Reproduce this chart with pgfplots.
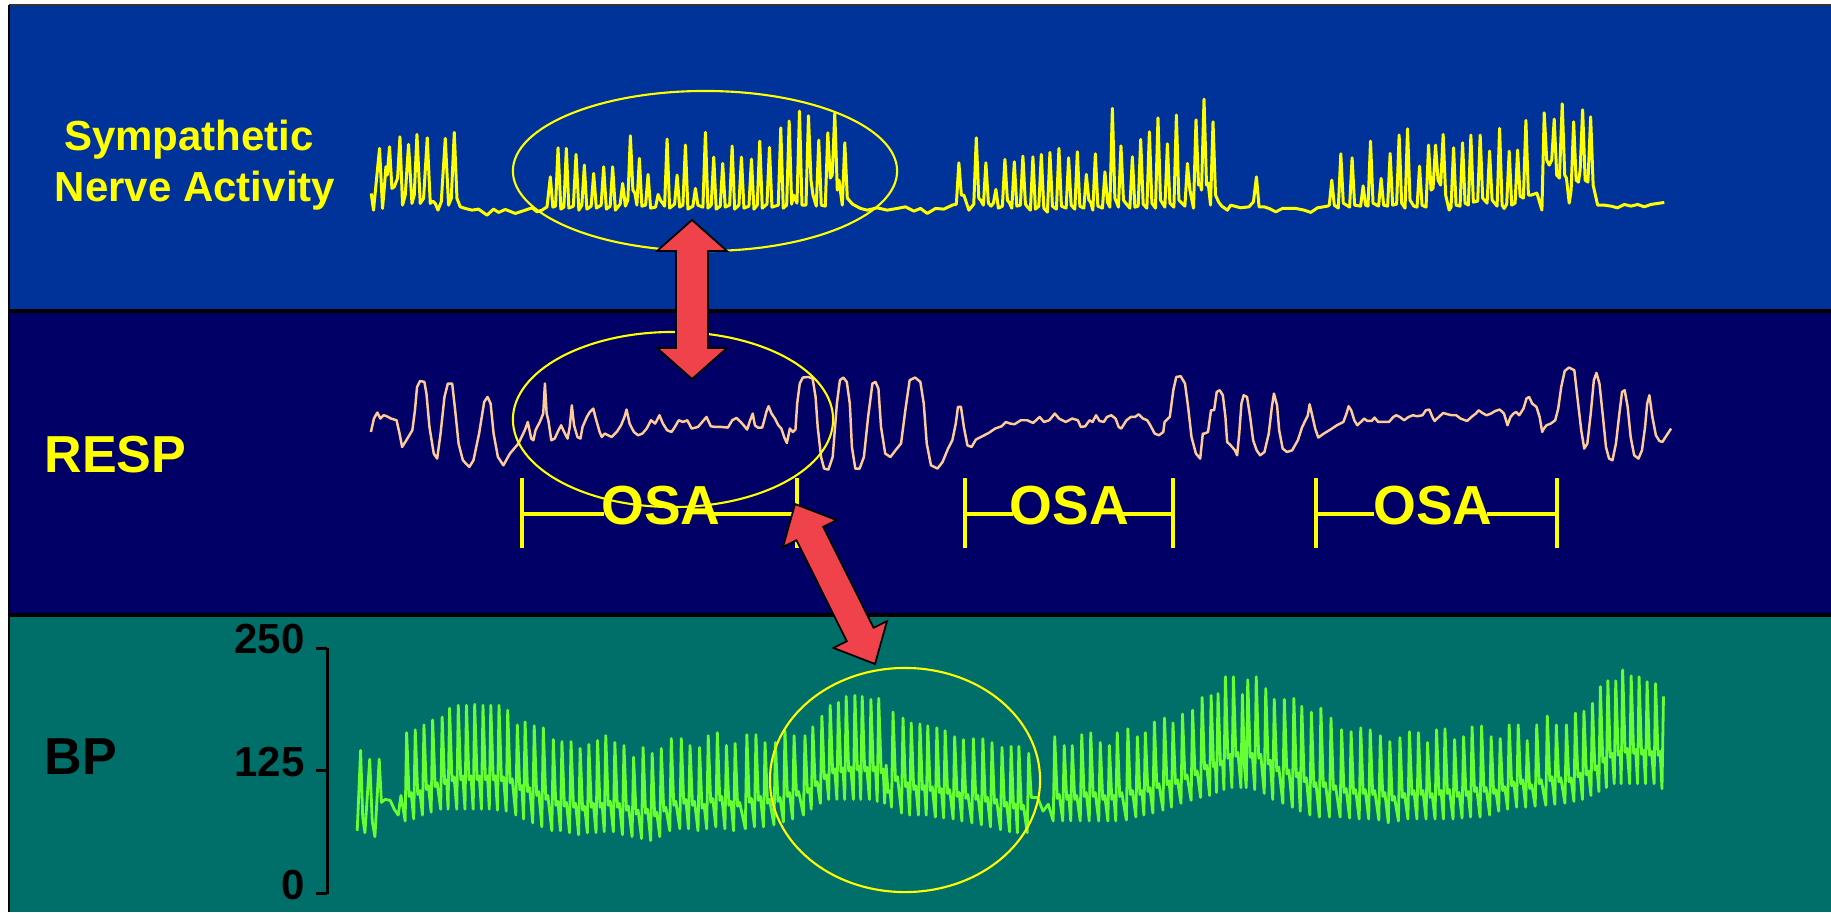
\documentclass[border=0pt]{standalone}
\usepackage{pgfplots}
\pgfplotsset{compat=1.18}
\usepackage{fontspec}
\setmainfont{Liberation Sans}
\definecolor{topblue}{RGB}{0,51,153}
\definecolor{midnavy}{RGB}{0,0,102}
\definecolor{botteal}{RGB}{0,111,106}
\definecolor{snay}{RGB}{255,255,0}
\definecolor{respc}{RGB}{255,204,153}
\definecolor{bpg}{RGB}{102,255,51}
\definecolor{arrowred}{RGB}{240,66,75}
\begin{document}
\begin{tikzpicture}[x=0.01cm,y=-0.01cm]
\path[use as bounding box] (0,0) rectangle (1831,912);
\fill[white] (0,0) rectangle (1831,912);
\fill[topblue] (9,5) rectangle (1831,311);
\fill[midnavy] (9,311) rectangle (1831,615);
\fill[botteal] (9,615) rectangle (1831,912);
\draw[black!80, line width=0.6pt] (9,5) -- (1831,5);
\draw[black, line width=0.8pt] (9,5) -- (9,912);
\draw[black, line width=1.1pt] (9,311) -- (1831,311);
\draw[black, line width=1.1pt] (9,615) -- (1831,615);

\begin{axis}[at={(0cm,0cm)}, anchor=north west, scale only axis, width=18.31cm, height=9.12cm,
  xmin=0, xmax=1831, ymin=0, ymax=912, y dir=reverse, hide axis, clip=false]
% Sympathetic nerve activity (pixel units)
\addplot[snay, line width=0.85pt, line join=round] coordinates {
(371,193.3) (373.3,210) (379.3,148.3) (382.3,208.3) (384.3,185) (385.7,166.7) (387,175) (389.3,146.7) (391.7,188.3) (394,186.7) (397.3,178.3) (399.7,136.7) (402.3,205) (405,195) (408.3,144.3) (411.7,203.3) (414,195) (416.7,134.3) (420,203.3) (423.3,198.3) (427,137.7) (430,203.3) (432.7,201) (435,203.3) (437.7,210) (441,201.7) (445,138.3) (448.3,205) (451,198.3) (454,132.3) (456.7,198.3) (460,206.7)
(465,208.3) (471.7,210) (478.3,209) (486.7,215) (493.3,209) (498.3,212.3) (505,209.3) (515,213.3) (525,210) (531.7,207.7) (536.7,211.7) (541.7,210) (546.7,206.7)
(550,176.7) (552.5,207) (555.2,206) (557.7,147.7) (560.5,209) (563.5,207) (566,148.3) (568.5,208) (573,206) (575.7,154.3) (578.5,210) (581.5,205) (584,165) (586.5,209) (590.8,206) (593.3,173.3) (596,208) (600.8,205) (603.3,166.7) (606,209) (609.8,206) (612.3,166.7) (615,210) (619.8,204) (622.3,183.3) (625,206) (627.5,200) (630,135.7) (632.5,190) (634.5,193) (636.5,205) (639,158.3) (641.5,206) (645.2,205) (647.7,174.3) (650.2,208) (655.2,207) (657.7,194.3) (660,200) (664.2,206) (666.7,139) (669.2,208) (674.2,204) (676.7,175) (679.2,207) (682.5,205) (685,145) (687.5,209) (692.5,206) (695,188.3) (697.5,205) (702.5,207) (705,132.3) (707.5,208) (710.8,205) (713.3,157) (715.8,209) (719.8,206) (722.3,163.3) (724.8,207) (729.2,205) (731.7,146) (734.2,209) (738.5,205) (741,157) (743.5,208) (748.5,206) (751,159) (753.5,209) (756.8,205) (759.3,141) (761.8,208) (766.5,204) (769,147.3) (771.5,207) (777.8,205) (780.3,127.7) (782.8,208) (786.2,205) (788.7,121) (791.2,204) (793,195) (796.5,203) (799,111) (801.5,205) (805.5,205) (808,115.7) (810.5,180) (812.5,195) (815.8,206) (818.3,140) (820.8,205) (824.8,206) (827.3,132.7) (829.8,178) (831.7,175) (834.3,113.3) (836.8,190) (838.5,180) (841.8,205) (844.3,142.7) (846.8,198) (852,204) (860,208.3)
(866.7,210) (876.7,207.7) (886.7,210) (896.7,208.3) (905,206.7) (913.3,211) (920,208.3) (926.7,213.3) (935,208.3) (943.3,209) (951.7,205)
(955.8,204) (958.3,162.7) (960.8,195) (963.3,195) (968.3,210) (973.2,204) (975.7,137.7) (978.2,198) (980,200) (982.8,205) (985.3,162.7) (987.8,203) (990.5,206) (992.8,203) (995.3,189.3) (997.8,208) (1001.8,206) (1004.3,159.3) (1006.8,200) (1009,203) (1011.2,208) (1013.7,161.7) (1016.2,206) (1019.8,205) (1022.3,156) (1024.8,204) (1027,207) (1029.8,210) (1032.3,156.7) (1034.8,209) (1038.2,206) (1040.7,154.3) (1043.2,208) (1046.8,212) (1049.3,152.3) (1051.8,206) (1055.8,209) (1058.3,148.3) (1060.8,206) (1065.5,208) (1068,157.7) (1070.5,205) (1074.2,209) (1076.7,151.7) (1079.2,206) (1083.2,208) (1085.7,174.3) (1088.2,200) (1090,202) (1092.2,210) (1094.7,153.7) (1097.2,206) (1101.8,208) (1104.3,171.7) (1106.8,202) (1109.2,207) (1111.7,108.3) (1114.2,198) (1117.8,207) (1120.3,145.7) (1122.8,200) (1125,203) (1129.2,208) (1131.7,156.7) (1134.2,207) (1137.5,206) (1140,139.3) (1142.5,204) (1146.2,208) (1148.7,131.7) (1151.2,203) (1154.8,208) (1157.3,117.7) (1159.8,200) (1164.2,207) (1166.7,143.7) (1169.2,203) (1173.2,207) (1175.7,115) (1178.2,200) (1184.2,206) (1186.7,163.3) (1189.2,190) (1192.8,208) (1195.3,119.7) (1197.8,185) (1199.5,183) (1200.8,190) (1203.3,99) (1205.8,185) (1207.5,183) (1209.8,205) (1212.3,121.7) (1214.8,195) (1218,202) (1221,206) (1226.7,210) (1230,205) (1240,207.7) (1248.3,206.7) (1252.7,201.7) (1255.7,176.7) (1258.3,206.7) (1263.3,206.7) (1268.3,208.3) (1275,211.7) (1281.7,208.3) (1288.3,208.3) (1295,208.3) (1303.3,210) (1310,212.3) (1316.7,207.7) (1326.7,206)
(1328.5,205) (1331,180) (1333.5,205) (1337.5,208) (1340,153.7) (1342.5,203) (1348.8,207) (1351.3,157.7) (1353.8,205) (1359.8,206) (1362.3,185.7) (1364.8,205) (1367.2,206) (1369.7,141) (1372.2,203) (1377.8,206) (1380.3,178.3) (1382.8,205) (1386.8,206) (1389.3,153.3) (1391.8,205) (1395.8,204) (1398.3,135) (1400.8,203) (1404.2,208) (1406.7,128.7) (1409.2,200) (1413,206) (1416.2,207) (1418.7,166) (1421.2,205) (1425.2,207) (1427.7,145) (1430.2,190) (1432.2,188) (1434.7,145) (1437.2,180) (1439.8,185) (1442.3,134.3) (1444.8,195) (1448.3,210) (1450.2,207) (1452.7,147.7) (1455.2,205) (1459.2,206) (1461.7,142.7) (1464.2,203) (1467.5,205) (1470,135) (1472.5,202) (1476.8,201) (1479.3,135) (1481.8,198) (1486.2,203) (1488.7,151) (1491.2,200) (1496.2,206) (1498.7,128.3) (1501.2,205) (1503.3,208.3) (1505.8,204) (1508.3,151) (1510.8,205) (1514.2,203) (1516.7,150) (1519.2,196) (1522.5,198) (1525,120.3) (1527.5,195) (1530,195) (1536,193) (1541,210) (1543.3,112.7) (1545.8,160) (1548.3,165) (1550.8,160) (1553.3,119) (1555.8,175) (1558.5,178) (1561.3,103.7) (1563.8,175) (1565.5,178) (1568.3,203) (1570.2,190) (1572.7,121.7) (1575.2,180) (1577.5,182) (1579.2,170) (1581.7,109.7) (1584.2,180) (1587,182) (1589.7,116.7) (1592.2,185) (1596.7,205)
(1603.3,205) (1610,206) (1616.7,207.7) (1623.3,204.3) (1630,206) (1636.7,204.3) (1643.3,206.7) (1650,204.3) (1656.7,203.3) (1663.3,202.3)
};
% Respiration (pixel units)
\addplot[respc, line width=0.7pt, line join=round] coordinates {
(370.7,431.7) (373.7,418.3) (377.1,412.3) (380.1,418.3) (383.5,415) (386.5,416) (390.8,418.3) (396.3,420) (399.3,433.3) (401.9,446.7) (406.1,440) (412.1,430) (414.7,410) (416.8,386.7) (419.8,380.7) (424.1,381.7) (426.2,393.3) (429.2,426.7) (433.5,453.3) (436.9,458.3) (440.3,433.3) (444.2,396.7) (447.6,383.3) (451.9,383.3) (454.9,410) (458.3,443.3) (462.6,460) (469.0,466.7) (473.2,460) (478.8,433.3) (483.9,401.7) (487.3,396.7) (490.3,403.3) (493.3,433.3) (497.6,456.7) (503.1,465) (509.6,453.3) (518.1,443.3) (524.5,430) (527.5,421.7) (530.9,438.3) (533.1,440) (535.2,430) (539.5,421.7) (542.9,413.3) (544.6,383.3) (546.3,413.3) (548.0,420) (551.0,440) (554.4,438.3) (557.4,431.7) (560.8,425) (563.0,430) (567.2,438.3) (569.4,426.7) (571.5,405) (573.7,425) (577.1,436.7) (580.1,438.3) (582.2,426.7) (586.5,416.7) (589.5,411.7) (592.9,408.3) (595.0,416.7) (599.3,431.7) (601.4,436.7) (604.4,433.3) (607.8,435) (611.3,436.7) (616.4,431.7) (620.7,425) (624.1,416.7) (626.2,409.3) (629.2,423.3) (633.5,431.7) (637.7,435) (642.0,433.3) (646.3,428.3) (650.6,420) (654.8,423.3) (659.1,415) (662.5,423.3) (666.8,430) (671.1,431.7) (674.1,427.3) (678.3,420) (682.6,421.7) (686.9,420) (691.2,428.3) (697.6,426.7) (701.8,421.7) (706.1,416.7) (710.4,426) (714.7,426.7) (721.1,426.7) (727.5,427.3) (731.8,420) (736.0,417.7) (740.3,421.7) (744.6,426.7) (746.7,429.3) (749.7,420) (752.3,413.3) (754.4,425) (757.4,427.3) (761.7,427.3) (763.8,420) (765.9,411.7) (768.1,406) (771.1,413.3) (774.5,418.3) (777.9,425) (780.9,428.3) (783.9,437.3) (786.4,442.7) (789.4,428.3) (792.4,431.7) (795.0,429.3) (796.7,403.3) (799.3,383.3) (802.3,377.3) (807.8,376.7) (812.1,378.3) (815.1,396.7) (817.2,426.7) (820.6,456.7) (823.6,468.3) (827.9,469.3) (832.2,456.7) (836.4,403.3) (839.4,380) (842.8,377.3) (846.3,381.7) (849.3,403.3) (851.4,446.7) (854.8,468.3) (859.1,468.3) (863.4,456.7) (867.6,416.7) (871.9,383.3) (874.9,381.7) (877.9,388.3) (880.5,426.7) (884.7,453.3) (889.9,456.7) (896.3,448.3) (900.5,443.3) (904.8,410) (909.1,380) (914.6,377.3) (919.8,381.7) (923.2,403.3) (926.2,443.3) (930.4,465) (936.9,468.3) (942.0,461.7) (947.5,448.3) (951.8,440) (955.2,423.3) (957.4,406.7) (960.4,406.7) (963.3,426.7) (966.8,445) (971.0,446.7) (975.3,439.3) (981.7,436) (988.1,432.7) (994.5,428.3) (1001.0,426) (1005.2,421.7) (1009.5,423.3) (1013.8,424) (1020.2,420) (1026.6,420)
(1032.5,422.7) (1039.0,416.7) (1043.4,421.7) (1048.6,420) (1054.2,413.3) (1058.5,418.3) (1065.1,421.7) (1071.6,418.3) (1077.2,420) (1080.2,426.7) (1084.6,426) (1088.9,420) (1091.9,421.7) (1095.4,415) (1098.9,420.7) (1103.2,421.7) (1106.3,416.7) (1110.6,415) (1114.9,418.3) (1118.0,426.7) (1120.6,428.3) (1125.8,420) (1130.1,416.7) (1134.4,416.7) (1137.9,414) (1142.3,418.3) (1146.6,420) (1149.6,425) (1154.0,433.3) (1158.3,435) (1162.6,431.7) (1163.9,421.7) (1169.1,416.7) (1172.6,390) (1175.6,376.7) (1180.0,376) (1184.3,383.3) (1187.4,406.7) (1190.8,436.7) (1195.2,453.3) (1199.5,458.3) (1202.1,433.3) (1203.8,433.3) (1207.3,431.7) (1210.3,410) (1213.4,410) (1216.0,391.7) (1219.0,390) (1222.1,395) (1224.7,416.7) (1226.4,441.7) (1229.9,445) (1234.2,450) (1236.4,455) (1238.5,433.3) (1240.7,403.3) (1242.9,395) (1246.3,396.7) (1249.4,416.7) (1252.4,440) (1255.9,450) (1259.4,455) (1263.7,451.7) (1268.0,433.3) (1271.1,406.7) (1273.2,393.3) (1276.3,405) (1278.4,430) (1281.9,448.3) (1286.2,451.7) (1291.4,450) (1297.1,440) (1301.4,426.7) (1307.1,415) (1308.8,404) (1311.4,415) (1314.4,428.3) (1317.5,437.3) (1323.1,433.3) (1329.6,429.3) (1336.1,425) (1342.6,421.7) (1345.7,413.3) (1347.8,406) (1350.4,410) (1353.5,420) (1356.5,425) (1360.0,421.7) (1363.4,418.3) (1366.5,420.7) (1370.8,420.7) (1373.8,417.3) (1377.3,421.7) (1381.7,421.7) (1388.2,421.7) (1392.5,416.7) (1395.5,415) (1399.0,416.7) (1403.3,420) (1407.7,416.7) (1412.0,415) (1416.4,416) (1421.6,415) (1425.0,410) (1428.5,409.3) (1431.5,416.7) (1433.7,420.7) (1438.0,416.7) (1442.4,412.7) (1446.7,414) (1451.0,415) (1455.4,415) (1459.7,418.3) (1466.2,420.7) (1470.6,416.7) (1474.9,413.3) (1477.9,410) (1481.4,412.7) (1485.7,415) (1490.1,413.3) (1494.4,410.7) (1498.8,409.3) (1503.1,413.3) (1506.6,425) (1509.6,416.7) (1512.6,413.3) (1515.2,411.7) (1518.3,415) (1522.6,408.3) (1525.6,398.3) (1528.2,396.7) (1531.3,403.3) (1535.6,406.7) (1538.7,416.7) (1541.3,431.7) (1543.0,428.3) (1545.6,425) (1549.9,423.3) (1554.3,420) (1557.3,408.3) (1560.3,386.7) (1563.8,370.7) (1568.1,367.3) (1573.4,370) (1576.8,400) (1580.3,430) (1583.3,448.3) (1586.4,443.3) (1589.8,413.3) (1592.9,380) (1595.5,372.7) (1598.5,383.3) (1602.0,416.7) (1605.0,446.7) (1608.1,458.3) (1611.5,460) (1615.0,443.3) (1618.0,416.7) (1621.1,391.7) (1623.7,390) (1626.7,406.7) (1629.7,436.7) (1633.2,455) (1637.5,458.3) (1641.0,450) (1644.1,426.7) (1646.2,403.3) (1648.4,395) (1651.4,416.7) (1654.9,435) (1658.4,440.7) (1661.4,441.7) (1665.7,435) (1670.1,428.3)
};
\end{axis}

\begin{axis}[at={(3.27cm,-8.93cm)}, anchor=south west, scale only axis, width=13.73cm, height=2.45cm,
  xmin=327, xmax=1700, ymin=0, ymax=250, axis x line=none, axis y line*=left,
  ytick={0,125,250}, tick align=outside, major tick length=0.11cm,
  axis line style={black, line width=0.85pt}, tick style={black, line width=0.85pt},
  yticklabel style={font=\bfseries\fontsize{11.95}{12}\selectfont, anchor=base east, inner sep=0pt, xshift=-0.11cm, yshift=-0.055cm},
  /pgf/number format/assume math mode=true, clip=false]
% Blood pressure (mmHg)
\addplot[bpg, line width=0.8pt, line join=round] coordinates {
(357,64) (360.4,146) (362.5,78) (364.7,62) (369.5,137) (372,74) (374.7,58) (379,137) (381.2,93) (385,96) (390,95) (394,86) (398,80) (400.7,100) (403,86)
(404.9,74) (406.4,164) (408.9,99) (410.9,103)
(413.5,76) (415,167) (417.5,101) (419.5,105)
(422.2,80) (423.7,172) (426.2,106) (428.2,110)
(430.9,83) (432.4,177) (434.9,109) (436.9,113)
(440.4,86) (441.9,180) (444.4,112) (446.4,116)
(447.8,86) (449.3,189) (451.8,115) (453.8,119)
(456.5,86) (458,192) (460.5,116) (462.5,120)
(464.7,86) (466.2,192) (468.7,116) (470.7,120)
(472.9,86) (474.4,193) (476.9,116) (478.9,120)
(481.2,86) (482.7,192) (485.2,116) (487.2,120)
(489,86) (490.5,192) (493,116) (495,120)
(497.2,85) (498.7,192) (501.2,115) (503.2,119)
(505.9,84) (507.4,187) (509.9,113) (511.9,117)
(515.5,80) (517,172) (519.5,106) (521.5,110)
(523.3,76) (524.8,175) (527.3,104) (529.3,108)
(532.4,72) (533.9,171) (536.4,100) (538.4,104)
(541.5,68) (543,169) (545.5,96) (547.5,100)
(551.5,64) (553,157) (555.5,90) (557.5,94)
(560.1,64) (561.6,155) (564.1,89) (566.1,93)
(569.2,62) (570.7,155) (573.2,88) (575.2,92)
(578.3,60) (579.8,148) (582.3,85) (584.3,89)
(587,62) (588.5,152) (591,88) (593,92)
(595.7,62) (597.2,156) (599.7,88) (601.7,92)
(603.9,63) (605.4,161) (607.9,90) (609.9,94)
(613,63) (614.5,154) (617,88) (619,92)
(622.1,60) (623.6,151) (626.1,85) (628.1,89)
(631.7,58) (633.2,139) (635.7,81) (637.7,85)
(641.2,56) (642.7,149) (645.2,82) (647.2,86)
(650.3,54) (651.8,143) (654.3,79) (656.3,83)
(659.4,58) (660.9,148) (663.4,84) (665.4,88)
(669.4,64) (670.9,158) (673.4,90) (675.4,94)
(679.4,66) (680.9,158) (683.4,92) (685.4,96)
(688.1,66) (689.6,151) (692.1,90) (694.1,94)
(697.6,64) (699.1,149) (701.6,87) (703.6,91)
(706.3,66) (707.8,161) (710.3,93) (712.3,97)
(715.4,68) (716.9,164) (719.4,95) (721.4,99)
(724.5,66) (726,151) (728.5,90) (730.5,94)
(733.2,64) (734.7,153) (737.2,89) (739.2,93)
(744.9,66) (746.4,162) (748.9,93) (750.9,97)
(754,68) (755.5,162) (758,95) (760,99)
(763.1,68) (764.6,154) (767.1,92) (769.1,96)
(773.5,70) (775,154) (777.5,94) (779.5,98)
(783,73) (784.5,166) (787,99) (789,103)
(792.1,76) (793.6,161) (796.1,100) (798.1,104)
(803,80) (804.5,161) (807,103) (809,107)
(810.8,86) (812.3,170) (814.8,110) (816.8,114)
(819.9,92) (821.4,181) (823.9,117) (825.9,121)
(828.2,96) (829.7,192) (832.2,123) (834.2,127)
(836.4,96) (837.9,195) (840.4,124) (842.4,128)
(844.2,96) (845.7,201) (848.2,125) (850.2,129)
(852.9,96) (854.4,202) (856.9,126) (858.9,130)
(860.2,96) (861.7,201) (864.2,125) (866.2,129)
(868.9,96) (870.4,198) (872.9,125) (874.9,129)
(876.7,94) (878.2,199) (880.7,123) (882.7,127)
(884.1,92) (885.6,131) (887.5,103) (889.5,105)
(891,88) (892.5,185) (895,115) (897,119)
(901,82) (902.5,179) (905,109) (907,113)
(909.2,80) (910.7,174) (913.2,106) (915.2,110)
(917.9,80) (919.4,173) (921.9,106) (923.9,110)
(925.7,80) (927.2,171) (929.7,105) (931.7,109)
(934.8,78) (936.3,169) (938.8,103) (940.8,107)
(943.1,77) (944.6,166) (947.1,102) (949.1,106)
(952.6,76) (954.1,160) (956.6,99) (958.6,103)
(961.3,74) (962.8,157) (965.3,97) (967.3,101)
(971.3,72) (972.8,158) (975.3,96) (977.3,100)
(980.8,70) (982.3,158) (984.8,94) (986.8,98)
(989.9,68) (991.4,154) (993.9,92) (995.9,96)
(999.9,65) (1001.4,149) (1003.9,89) (1005.9,93)
(1009,63) (1010.5,150) (1013,87) (1015,91)
(1016.8,62) (1018.3,150) (1020.8,86) (1022.8,90)
(1026.6,62) (1028.1,143) (1030.7,98) (1037,98) (1042.4,84) (1047.7,91)
(1052.6,74) (1054.1,160) (1056.6,97) (1058.6,101)
(1062.1,74) (1063.6,151) (1066.1,96) (1068.1,100)
(1070.1,74) (1071.6,151) (1074.1,96) (1076.1,100)
(1079.6,74) (1081.1,162) (1083.6,99) (1085.6,103)
(1088.6,74) (1090.1,164) (1092.6,99) (1094.6,103)
(1098.1,74) (1099.6,154) (1102.1,96) (1104.1,100)
(1107.2,74) (1108.7,151) (1111.2,96) (1113.2,100)
(1115.1,74) (1116.6,164) (1119.1,99) (1121.1,103)
(1125.7,75) (1127.2,168) (1129.7,101) (1131.7,105)
(1135.2,78) (1136.7,160) (1139.2,101) (1141.2,105)
(1143.2,80) (1144.7,164) (1147.2,104) (1149.2,108)
(1152.2,82) (1153.7,175) (1156.2,108) (1158.2,112)
(1162.3,85) (1163.8,179) (1166.3,111) (1168.3,115)
(1170.8,88) (1172.3,174) (1174.8,112) (1176.8,116)
(1180.3,92) (1181.8,183) (1184.3,117) (1186.3,121)
(1190.4,95) (1191.9,187) (1194.4,121) (1196.4,125)
(1199.9,98) (1201.4,200) (1203.9,127) (1205.9,131)
(1208.9,100) (1210.4,202) (1212.9,129) (1214.6,133)
(1215.8,103) (1217.3,204) (1219.8,131) (1221.8,135)
(1223.2,106) (1224.7,221) (1227.2,138) (1229.2,142)
(1231.2,108) (1232.7,221) (1235.2,140) (1237.2,144)
(1240.2,108) (1241.7,203) (1243.7,130)
(1245.5,108) (1247,218) (1249.5,139) (1251.5,143)
(1254,106) (1255.5,221) (1258,138) (1260,142)
(1263.5,102) (1265,209) (1267.5,132) (1269.5,136)
(1272,96) (1273.5,198) (1276,125) (1278,129)
(1282.1,92) (1283.6,198) (1286.1,122) (1288.1,126)
(1291.6,88) (1293.1,199) (1295.6,119) (1297.6,123)
(1299.5,84) (1301,191) (1303.5,114) (1305.5,118)
(1309.1,80) (1310.6,185) (1313.1,109) (1315.1,113)
(1318.6,78) (1320.1,189) (1322.6,109) (1324.6,113)
(1328.7,78) (1330.2,179) (1332.7,106) (1334.7,110)
(1339.3,78) (1340.8,167) (1343.3,103) (1345.3,107)
(1348.8,77) (1350.3,165) (1352.8,102) (1354.8,106)
(1358.4,76) (1359.9,169) (1362.4,102) (1364.4,106)
(1367.9,76) (1369.4,167) (1371.9,101) (1373.9,105)
(1378,75) (1379.5,161) (1382,99) (1384,103)
(1387.5,72) (1389,155) (1391.5,95) (1393.5,99)
(1397.6,74) (1399.1,159) (1401.6,98) (1403.6,102)
(1407.1,76) (1408.6,165) (1411.1,101) (1413.1,105)
(1416.1,76) (1417.6,164) (1420.1,101) (1422.1,105)
(1425.2,76) (1426.7,154) (1429.2,98) (1431.2,102)
(1434.2,76) (1435.7,167) (1438.2,101) (1440.2,105)
(1442.6,76) (1444.1,168) (1446.6,102) (1448.6,106)
(1452.2,76) (1453.7,157) (1456.2,99) (1458.2,103)
(1461.2,77) (1462.7,160) (1465.2,100) (1467.2,104)
(1469.7,78) (1471.2,170) (1473.7,104) (1475.7,108)
(1479.2,78) (1480.7,171) (1483.2,104) (1485.2,108)
(1488.8,80) (1490.3,160) (1492.8,102) (1494.8,106)
(1497.8,84) (1499.3,158) (1501.8,105) (1503.8,109)
(1506.8,86) (1508.3,172) (1510.8,110) (1512.8,114)
(1515.8,88) (1517.3,172) (1519.8,112) (1521.8,116)
(1524.8,88) (1526.3,156) (1528.8,107) (1530.8,111)
(1534.3,89) (1535.8,172) (1538.3,112) (1540.3,116)
(1544.9,90) (1546.4,181) (1548.9,115) (1550.9,119)
(1553.9,91) (1555.4,172) (1557.9,114) (1559.9,118)
(1564,92) (1565.5,172) (1568,114) (1570,118)
(1573,94) (1574.5,184) (1577,119) (1579,123)
(1581.5,96) (1583,186) (1585.5,121) (1587.5,125)
(1590,100) (1591.5,194) (1594,126) (1596,130)
(1597.9,104) (1599.4,211) (1601.9,134) (1603.9,138)
(1605.4,108) (1606.9,217) (1609.4,139) (1611.4,143)
(1613.3,112) (1614.8,217) (1617.3,141) (1619.3,145)
(1620.2,112) (1621.7,228) (1624.2,144) (1626.2,148)
(1628.7,112) (1630.2,222) (1632.7,143) (1634.7,147)
(1636.6,112) (1638.1,221) (1640.6,142) (1642.6,146)
(1644.6,112) (1646.1,216) (1648.6,141) (1650.6,145)
(1653.1,112) (1654.6,214) (1657.1,141) (1659.1,145)
(1661,107) (1662.5,201)
};
\end{axis}

% ellipses
\draw[snay, line width=0.6pt] (705,171) ellipse [x radius=1.92cm, y radius=0.80cm];
\draw[snay, line width=0.6pt] (673,419.5) ellipse [x radius=1.60cm, y radius=0.875cm];
\draw[snay, line width=0.6pt] (905,780) ellipse [x radius=1.35cm, y radius=1.12cm];

% OSA brackets
\begin{scope}[snay, line width=1.1pt]
\draw (522,478) -- (522,548); \draw (797,478) -- (797,548);
\draw (522,514) -- (604,514); \draw (714,514) -- (797,514);
\draw (965,478) -- (965,548); \draw (1173,478) -- (1173,548);
\draw (965,514) -- (1013,514); \draw (1123,514) -- (1173,514);
\draw (1316,478) -- (1316,548); \draw (1557,478) -- (1557,548);
\draw (1316,514) -- (1374,514); \draw (1487,514) -- (1557,514);
\end{scope}

% labels
\node[anchor=base, text=snay, font=\bfseries\fontsize{11.95}{12}\selectfont, inner sep=0pt] at (189,150) {Sympathetic};
\node[anchor=base, text=snay, font=\bfseries\fontsize{11.95}{12}\selectfont, inner sep=0pt] at (195,201) {Nerve Activity};
\node[anchor=base, text=snay, font=\bfseries\fontsize{14.8}{15}\selectfont, inner sep=0pt] at (115.5,472) {RESP};
\node[anchor=base, text=black, font=\bfseries\fontsize{14.8}{15}\selectfont, inner sep=0pt] at (80.7,774) {BP};
\node[anchor=base, text=snay, font=\bfseries\fontsize{15.65}{16}\selectfont, inner sep=0pt] at (661,524) {OSA};
\node[anchor=base, text=snay, font=\bfseries\fontsize{15.65}{16}\selectfont, inner sep=0pt] at (1069.5,524) {OSA};
\node[anchor=base, text=snay, font=\bfseries\fontsize{15.65}{16}\selectfont, inner sep=0pt] at (1433,524) {OSA};

% arrows
\draw[fill=arrowred, draw=black, line width=0.5pt, line join=miter]
 (692,220) -- (727,251) -- (708,251) -- (708,348) -- (727,348) -- (692,379) -- (657,348) -- (676,348) -- (676,251) -- (657,251) -- cycle;
\draw[fill=arrowred, draw=black, line width=0.5pt, line join=miter]
 (795,504) -- (836.6,520.1) -- (823.2,526.8) -- (873.6,627.8) -- (887,621.1) -- (875,664) -- (833.4,647.9) -- (846.8,641.2) -- (796.4,540.2) -- (783,546.9) -- cycle;
\end{tikzpicture}
\end{document}
